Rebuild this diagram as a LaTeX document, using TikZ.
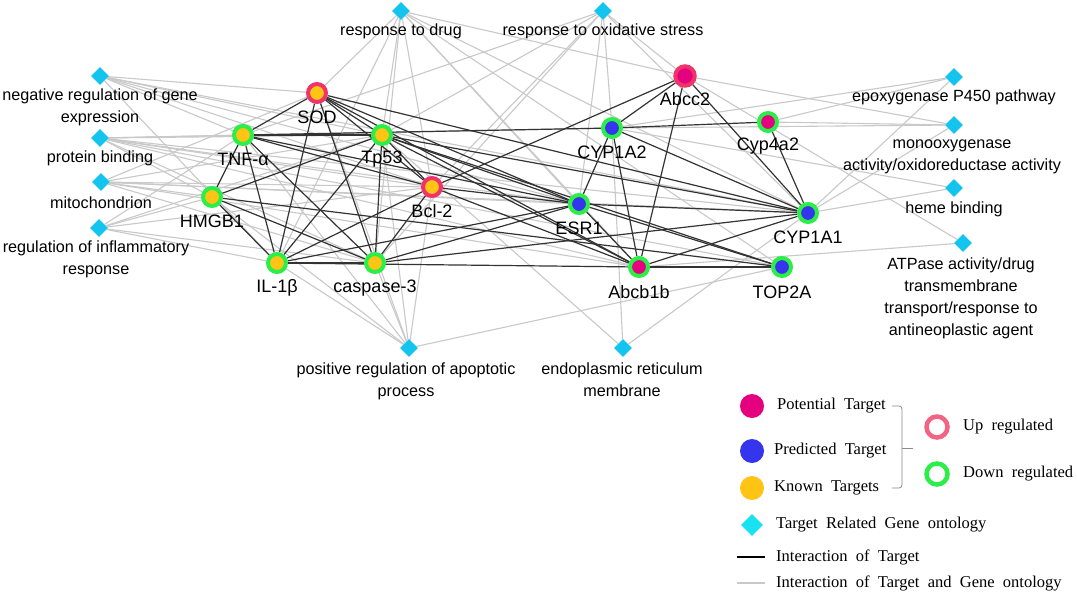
\documentclass[tikz,border=0pt]{standalone}
\usepackage{fontspec}
\setmainfont{Liberation Sans}
\newfontfamily\legfont{Liberation Serif}
\usetikzlibrary{shapes.geometric}
\definecolor{ringG}{HTML}{2BEE48}
\definecolor{ringR}{HTML}{F0346A}
\definecolor{ringP}{HTML}{F26482}
\definecolor{coreO}{HTML}{FFC414}
\definecolor{coreM}{HTML}{E4007F}
\definecolor{coreB}{HTML}{3535EE}
\definecolor{goC}{HTML}{12C4EE}
\definecolor{goL}{HTML}{18E2F2}
\definecolor{edgeG}{HTML}{C9C9C9}
\definecolor{edgeK}{HTML}{333333}
\definecolor{braceC}{HTML}{8A8A8A}
\pgfdeclarelayer{bg}
\pgfdeclarelayer{paper}
\pgfsetlayers{paper,bg,main}
\tikzset{
  gene/.style={circle,minimum size=18pt,inner sep=0pt,line width=4pt},
  upreg/.style={draw=ringR},
  downreg/.style={draw=ringG},
  known/.style={fill=coreO},
  potent/.style={fill=coreM},
  predic/.style={fill=coreB},
  gonode/.style={diamond,fill=goC,minimum size=18pt,inner sep=0pt},
  lab/.style={font=\fontsize{18}{21}\selectfont,inner sep=0pt},
  golab/.style={font=\fontsize{16.2}{22}\selectfont,align=center,inner sep=0pt},
  leg/.style={font=\legfont\fontsize{16.5}{19}\selectfont,anchor=west,inner sep=0pt},
  gline/.style={draw=edgeG,line width=1.1pt},
  kline/.style={draw=edgeK,line width=1.2pt},
}
\begin{document}
\begin{tikzpicture}[x=1pt,y=-1pt]
\begin{pgfonlayer}{paper}
\fill[white] (0,0) rectangle (1077,595);
\end{pgfonlayer}
\useasboundingbox (0,0) rectangle (1077,595);

% GO term nodes
\node[gonode] (drug) at (401,11) {};
\node[gonode] (oxid) at (603,11) {};
\node[gonode] (negr) at (100,76) {};
\node[gonode] (prot) at (100,138) {};
\node[gonode] (mito) at (101,182) {};
\node[gonode] (infl) at (99,228) {};
\node[gonode] (epox) at (954,77) {};
\node[gonode] (mono) at (954,125) {};
\node[gonode] (heme) at (954,188) {};
\node[gonode] (atpa) at (963,243) {};
\node[gonode] (apop) at (409,348) {};
\node[gonode] (endo) at (623,348) {};

% target nodes
\node[gene,upreg,known] (SOD) at (317,93) {};
\node[gene,downreg,known] (TNF) at (243,135) {};
\node[gene,downreg,known] (Tp53) at (382,135) {};
\node[gene,downreg,known] (HMGB) at (212,197) {};
\node[gene,upreg,known] (Bcl) at (432,187) {};
\node[gene,downreg,known] (IL) at (277,263) {};
\node[gene,downreg,known] (Casp) at (375,263) {};
\node[gene,upreg,potent,minimum size=19.5pt] (Abcc) at (685,76) {};
\node[gene,downreg,predic] (CYPa2) at (612,128) {};
\node[gene,downreg,potent] (Cyp4) at (768,122) {};
\node[gene,downreg,predic] (ESR) at (579,204) {};
\node[gene,downreg,predic] (CYPa1) at (808,213) {};
\node[gene,downreg,potent] (Abcb) at (639,267) {};
\node[gene,downreg,predic] (TOP) at (782,267) {};

% labels
\node[golab] (drugl) at (401,31) {response to drug};
\node[golab] (oxidl) at (603,31) {response to oxidative stress};
\node[golab] (negrl) at (100,107) {negative regulation of gene\\expression};
\node[golab] (protl) at (100,158) {protein binding};
\node[golab] (mitol) at (101,203) {mitochondrion};
\node[golab] (infll) at (96,259) {regulation of inflammatory\\response};
\node[golab] (epoxl) at (954,97) {epoxygenase P450 pathway};
\node[golab] (monol) at (952,157) {monooxygenase\\activity/oxidoreductase activity};
\node[golab] (hemel) at (954,209) {heme binding};
\node[golab] (atpal) at (961,298) {ATPase activity/drug\\transmembrane\\transport/response to\\antineoplastic agent};
\node[golab] (apopl) at (406,381) {positive regulation of apoptotic\\process};
\node[golab] (endol) at (622,380) {endoplasmic reticulum\\membrane};

\node[lab] (SODl) at (317,117) {SOD};
\node[lab] (TNFl) at (243,159) {TNF-α};
\node[lab] (Tp53l) at (382,159) {Tp53};
\node[lab] (HMGBl) at (212,221) {HMGB1};
\node[lab] (Bcll) at (432,211) {Bcl-2};
\node[lab] (ILl) at (277,288) {IL-1β};
\node[lab] (Caspl) at (375,288) {caspase-3};
\node[lab] (Abccl) at (685,99) {Abcc2};
\node[lab] (CYPa2l) at (612,152) {CYP1A2};
\node[lab] (Cyp4l) at (768,146) {Cyp4a2};
\node[lab] (ESRl) at (579,228) {ESR1};
\node[lab] (CYPa1l) at (808,237) {CYP1A1};
\node[lab] (Abcbl) at (639,292) {Abcb1b};
\node[lab] (TOPl) at (782,292) {TOP2A};

\begin{pgfonlayer}{bg}
% gene ontology interactions
\foreach \g/\t in {drug/SOD,drug/IL,drug/Casp,drug/Tp53,drug/Bcl,drug/ESR,drug/Abcb,drug/CYPa1,drug/TOP,drug/Abcc,
  oxid/TNF,oxid/Bcl,oxid/Tp53,oxid/Casp,oxid/Abcc,oxid/CYPa2,oxid/ESR,oxid/CYPa1,
  negr/SOD,negr/TNF,negr/Tp53,negr/Bcl,negr/ESR,negr/CYPa1,negr/IL,
  prot/TNF,prot/Tp53,prot/Bcl,prot/ESR,prot/HMGB,prot/Casp,prot/CYPa1,prot/Abcb,prot/TOP,prot/CYPa2,
  mito/SOD,mito/HMGB,mito/Bcl,mito/Tp53,mito/Casp,mito/ESR,mito/CYPa1,mito/Abcb,
  infl/TNF,infl/HMGB,infl/IL,infl/Tp53,infl/Bcl,infl/Casp,
  apop/IL,apop/Casp,apop/TNF,apop/Tp53,apop/Bcl,apop/HMGB,apop/SOD,apop/TOP,
  endo/Tp53,endo/CYPa2,endo/CYPa1,
  epox/CYPa2,epox/Cyp4,epox/CYPa1,
  mono/CYPa2,mono/Cyp4,mono/CYPa1,mono/Abcc,
  heme/CYPa1,heme/CYPa2,
  atpa/Abcc,atpa/Abcb}
  \draw[gline] (\g) -- (\t);
% target interactions
\foreach \a/\b in {SOD/TNF,SOD/Tp53,SOD/Bcl,SOD/IL,SOD/Casp,SOD/ESR,SOD/Abcb,SOD/CYPa1,
  TNF/HMGB,TNF/IL,TNF/Casp,TNF/Tp53,TNF/Bcl,TNF/ESR,TNF/CYPa2,
  Tp53/HMGB,Tp53/IL,Tp53/Casp,Tp53/Bcl,Tp53/ESR,Tp53/Abcb,Tp53/CYPa1,Tp53/TOP,
  HMGB/IL,HMGB/Casp,HMGB/TOP,
  Bcl/IL,Bcl/Casp,Bcl/Abcc,Bcl/ESR,Bcl/Abcb,
  IL/Casp,IL/ESR,IL/Abcb,
  Casp/ESR,Casp/CYPa1,
  ESR/CYPa2,ESR/CYPa1,ESR/TOP,ESR/Abcb,
  CYPa2/Abcc,CYPa2/Abcb,CYPa2/CYPa1,CYPa2/Cyp4,
  Abcc/Abcb,Abcc/CYPa1,Cyp4/CYPa1,CYPa1/Abcb,Abcb/TOP}
  \draw[kline] (\a) -- (\b);
\end{pgfonlayer}

% legend
\node[circle,fill=coreM,minimum size=24pt,inner sep=0pt] (lpot) at (752,406) {};
\node[circle,fill=coreB,minimum size=24pt,inner sep=0pt] (lpre) at (752,451) {};
\node[circle,fill=coreO,minimum size=24pt,inner sep=0pt] (lkno) at (752,488) {};
\node[diamond,fill=goL,minimum size=22pt,inner sep=0pt] (lgo) at (752,525) {};
\node[leg] (tpot) at (777,406) {Potential\ \ Target};
\node[leg] (tpre) at (774,451) {Predicted\ \ Target};
\node[leg] (tkno) at (774,488) {Known\ \ Targets};
\node[leg] (tgo) at (776,525) {Target\ \ Related\ \ Gene\ \ ontology};
\coordinate (k1) at (737,557); \coordinate (k2) at (765,557);
\coordinate (g1) at (737,583); \coordinate (g2) at (765,583);
\draw[draw=black,line width=1.3pt] (k1) -- (k2);
\draw[draw=edgeG,line width=1.3pt] (g1) -- (g2);
\node[leg] (tk) at (776,557) {Interaction\ \ of\ \ Target};
\node[leg] (tg) at (776,583) {Interaction\ \ of\ \ Target\ \ and\ \ Gene\ \ ontology};
\coordinate (b1) at (892,406); \coordinate (b2) at (892,488); \coordinate (bm) at (913,448);
\draw[draw=braceC,line width=0.8pt,rounded corners=3pt] (b1) -- (902,406) -- (902,488) -- (b2);
\draw[draw=braceC,line width=0.8pt] (902,448) -- (bm);
\node[circle,draw=ringP,line width=4.5pt,minimum size=21pt,inner sep=0pt] (lup) at (937,427) {};
\node[circle,draw=ringG,line width=4.5pt,minimum size=21pt,inner sep=0pt] (ldn) at (937,474) {};
\node[leg] (tup) at (963,427) {Up\ \ regulated};
\node[leg] (tdn) at (963,474) {Down\ \ regulated};
\end{tikzpicture}
\end{document}
